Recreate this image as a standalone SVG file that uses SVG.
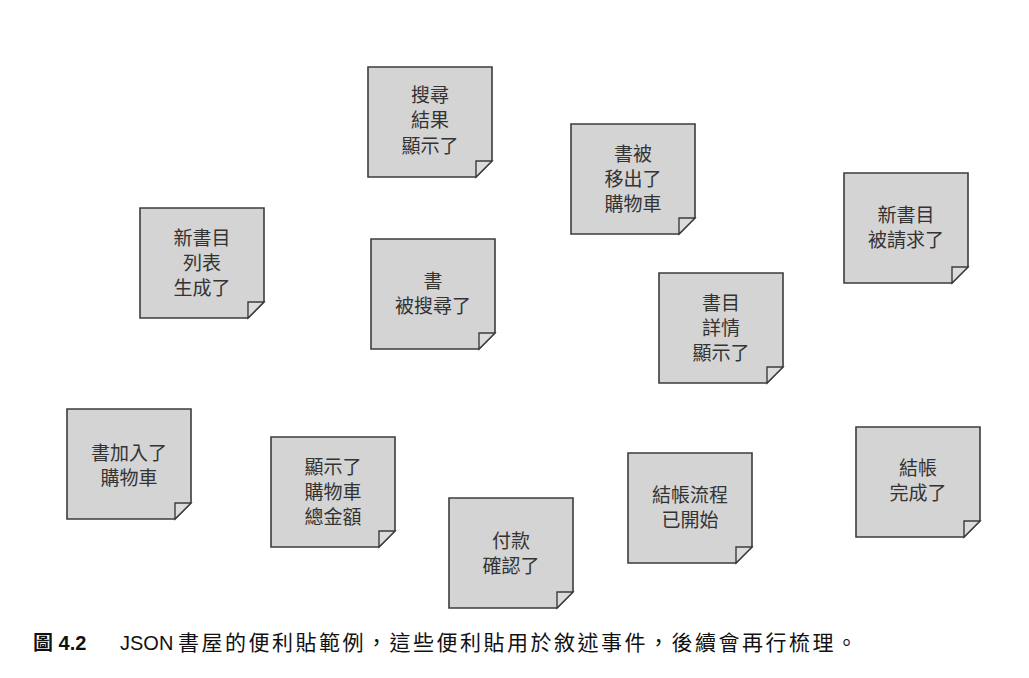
<svg xmlns="http://www.w3.org/2000/svg" xmlns:xlink="http://www.w3.org/1999/xlink" width="1029" height="678" viewBox="0 0 1029 678">
<style>
.note{fill:#d4d4d4;stroke:#3c3c3c;stroke-width:1.6;stroke-linejoin:miter}
.fold{fill:#dcdcdc;stroke:#3c3c3c;stroke-width:1.4}
.t{font-family:"Liberation Sans","Noto Sans CJK TC",sans-serif;font-size:19px;fill:#333;text-anchor:middle;dominant-baseline:central}
.cap{font-family:"Liberation Sans","Noto Sans CJK TC",sans-serif;font-size:20px;fill:#111}
</style>
<defs>
<g id="sticky">
<path class="note" d="M0,0H124V94L108,110H0Z"/>
<path class="fold" d="M124,94H108V110Z"/>
</g>
</defs>
<rect width="1029" height="678" fill="#fff"/>
<g id="connectors"></g>
<g id="n1" transform="translate(368,67)"><use xlink:href="#sticky"/><text class="t"><tspan x="62" y="28">搜尋</tspan><tspan x="62" y="53">結果</tspan><tspan x="62" y="79">顯示了</tspan></text></g>
<g id="n2" transform="translate(571,124)"><use xlink:href="#sticky"/><text class="t"><tspan x="62" y="30">書被</tspan><tspan x="62" y="55">移出了</tspan><tspan x="62" y="80">購物車</tspan></text></g>
<g id="n3" transform="translate(844,173)"><use xlink:href="#sticky"/><text class="t"><tspan x="62" y="42">新書目</tspan><tspan x="62" y="67">被請求了</tspan></text></g>
<g id="n4" transform="translate(140,208)"><use xlink:href="#sticky"/><text class="t"><tspan x="62" y="30">新書目</tspan><tspan x="62" y="55">列表</tspan><tspan x="62" y="80">生成了</tspan></text></g>
<g id="n5" transform="translate(371,239)"><use xlink:href="#sticky"/><text class="t"><tspan x="62" y="42">書</tspan><tspan x="62" y="67">被搜尋了</tspan></text></g>
<g id="n6" transform="translate(659,273)"><use xlink:href="#sticky"/><text class="t"><tspan x="62" y="30">書目</tspan><tspan x="62" y="55">詳情</tspan><tspan x="62" y="80">顯示了</tspan></text></g>
<g id="n7" transform="translate(67,409)"><use xlink:href="#sticky"/><text class="t"><tspan x="62" y="44">書加入了</tspan><tspan x="62" y="69">購物車</tspan></text></g>
<g id="n8" transform="translate(271,437)"><use xlink:href="#sticky"/><text class="t"><tspan x="62" y="30">顯示了</tspan><tspan x="62" y="55">購物車</tspan><tspan x="62" y="80">總金額</tspan></text></g>
<g id="n9" transform="translate(449,498)"><use xlink:href="#sticky"/><text class="t"><tspan x="62" y="43">付款</tspan><tspan x="62" y="68">確認了</tspan></text></g>
<g id="n10" transform="translate(628,453)"><use xlink:href="#sticky"/><text class="t"><tspan x="62" y="42">結帳流程</tspan><tspan x="62" y="67">已開始</tspan></text></g>
<g id="n11" transform="translate(856,427)"><use xlink:href="#sticky"/><text class="t"><tspan x="62" y="41">結帳</tspan><tspan x="62" y="66">完成了</tspan></text></g>
<text class="cap" y="650"><tspan x="33" font-weight="bold">圖 4.2</tspan><tspan x="120">JSON </tspan><tspan x="178" font-size="21" letter-spacing="2.5">書屋的便利貼範例，這些便利貼用於敘述事件，後續會再行梳理。</tspan></text>
</svg>
